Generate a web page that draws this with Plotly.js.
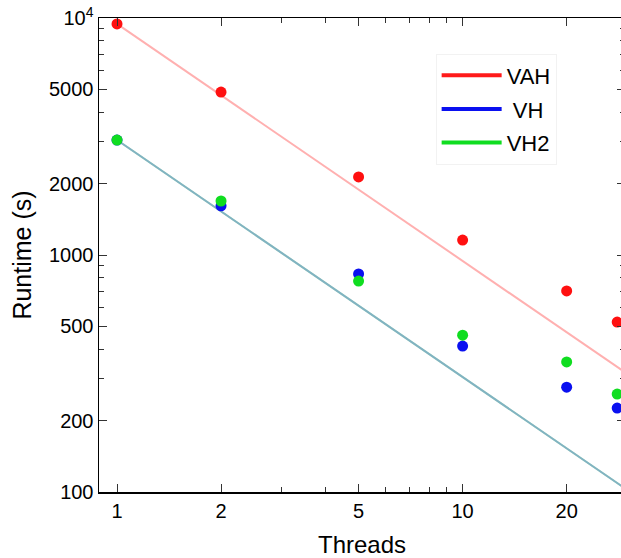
<!DOCTYPE html>
<html><head><meta charset="utf-8">
<script src="https://cdn.plot.ly/plotly-3.0.1.min.js"></script>
<style>html,body{margin:0;padding:0;overflow:hidden;background:#fff;width:621px;height:558px;}</style>
</head><body><div id="chart"></div>
<script>
const threads = [1, 2, 5, 10, 20, 28];
const VAH = [9440, 4870, 2134, 1156, 705, 521];
const VH  = [3055, 1612, 832, 413, 277, 226];
const VH2 = [3055, 1690, 776, 459, 354, 259];
const idealThreads = [1, 29.5];
const idealVAH = [9440, 320];
const idealVH  = [3055, 103.6];
const idealVH2 = [3055, 103.6];
const xTickVals = [1, 2, 5, 10, 20];
const xTickText = ['1', '2', '5', '10', '20'];
const xMinor = [3, 4, 6, 7, 8, 9, 30];
const yTickVals = [100, 200, 500, 1000, 2000, 5000, 10000];
const yTickText = ['100', '200', '500', '1000', '2000', '5000', '10<sup>4</sup>'];
const yMinor = [300, 400, 600, 700, 800, 900, 3000, 4000, 6000, 7000, 8000, 9000];

const F = 'Liberation Sans, Arial, sans-serif';
const traces = [
  {x: idealThreads, y: idealVAH, mode: 'lines', line: {color: '#ffb0b0', width: 2}, showlegend: false, hoverinfo: 'skip'},
  {x: idealThreads, y: idealVH2, mode: 'lines', line: {color: 'rgb(140,225,140)', width: 2}, showlegend: false, hoverinfo: 'skip'},
  {x: idealThreads, y: idealVH, mode: 'lines', line: {color: 'rgba(120,140,240,0.55)', width: 2}, showlegend: false, hoverinfo: 'skip'},
  {x: threads, y: VAH, mode: 'markers', marker: {color: '#ff1010', size: 11}, showlegend: false},
  {x: threads, y: VH, mode: 'markers', marker: {color: '#0a10f0', size: 11}, showlegend: false},
  {x: threads, y: VH2, mode: 'markers', marker: {color: '#10dd20', size: 11}, showlegend: false},
  {x: [null], y: [null], mode: 'lines', name: 'VAH', legendgroup: 'a', line: {color: '#ff1a1a', width: 4}},
  {x: [null], y: [null], mode: 'lines', name: '&nbsp;VH', legendgroup: 'b', line: {color: '#0a10f0', width: 4}},
  {x: [null], y: [null], mode: 'lines', name: 'VH2', legendgroup: 'c', line: {color: '#10dd20', width: 4}}
];
const axisCommon = {
  showgrid: false, zeroline: false, showline: true, linecolor: '#000', linewidth: 1.5,
  mirror: 'allticks', ticks: 'inside', ticklen: 8, tickwidth: 1, tickcolor: '#333',
  tickfont: {family: F, size: 20, color: '#000'}
};
const layout = {
  width: 630, height: 558,
  margin: {l: 99, r: 5, t: 18, b: 66},
  paper_bgcolor: '#fff', plot_bgcolor: '#fff',
  font: {family: F, color: '#000'},
  xaxis: Object.assign({}, axisCommon, {
    type: 'log', range: [Math.log10(0.887), Math.log10(29.5)],
    tickmode: 'array', tickvals: xTickVals, ticktext: xTickText,
    minor: {tickmode: 'array', tickvals: xMinor, ticks: 'inside', ticklen: 5, tickcolor: '#333', tickwidth: 1},
    title: {text: 'Threads', font: {family: F, size: 24, color: '#000'}, standoff: 16}
  }),
  yaxis: Object.assign({}, axisCommon, {
    type: 'log', range: [2, 4],
    tickmode: 'array', tickvals: yTickVals, ticktext: yTickText,
    minor: {tickmode: 'array', tickvals: yMinor, ticks: 'inside', ticklen: 5, tickcolor: '#333', tickwidth: 1},
    title: {text: 'Runtime (s)', font: {family: F, size: 25, color: '#000'}, standoff: 10}
  }),
  legend: {x: 0.64, y: 0.925, xanchor: 'left', yanchor: 'top', bgcolor: 'rgba(255,255,255,0)',
    bordercolor: '#f2f2f2', borderwidth: 1, font: {family: F, size: 22, color: '#000'},
    itemwidth: 60, tracegroupgap: 2},
  showlegend: true
};
Plotly.newPlot('chart', traces, layout, {displayModeBar: false, staticPlot: true});
</script></body></html>
